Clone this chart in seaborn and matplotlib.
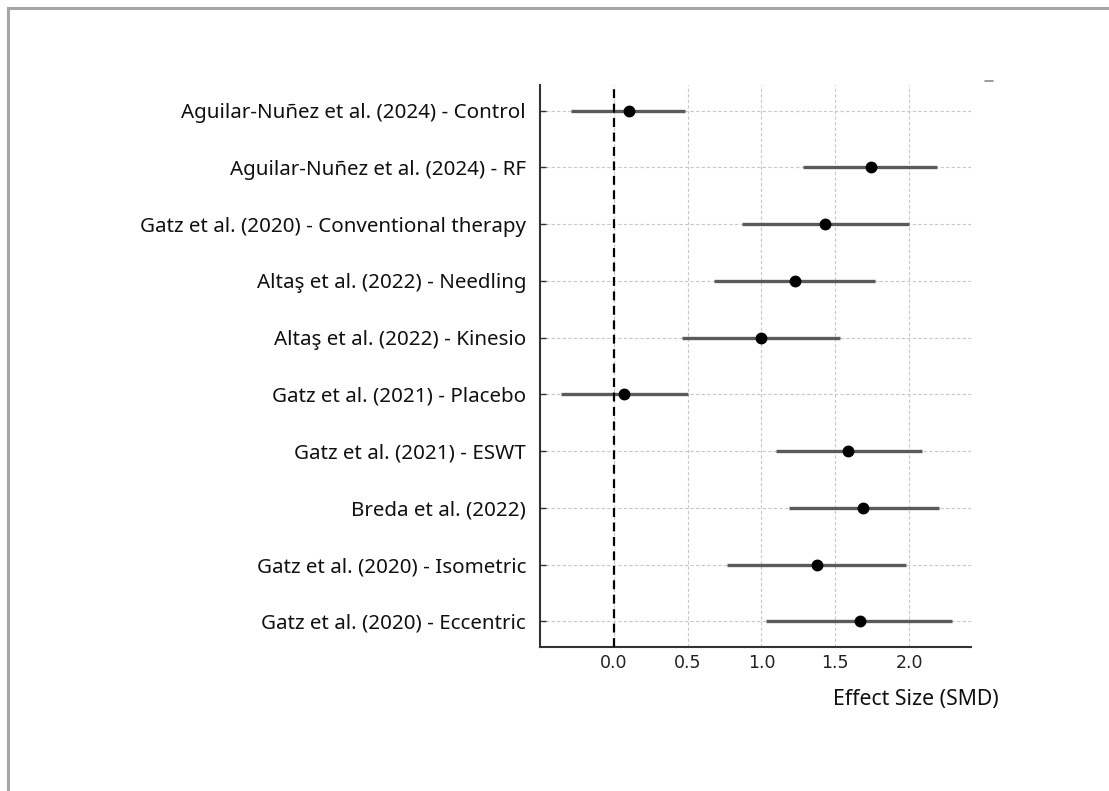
import matplotlib.pyplot as plt
import pandas as pd
import seaborn as sns
from matplotlib.lines import Line2D
from matplotlib.patches import Rectangle

sns.set_theme(style="whitegrid")
plt.rcParams["font.family"] = ["Noto Sans", "DejaVu Sans"]

studies = [
    "Aguilar-Nuñez et al. (2024) - Control",
    "Aguilar-Nuñez et al. (2024) - RF",
    "Gatz et al. (2020) - Conventional therapy",
    "Altaş et al. (2022) - Needling",
    "Altaş et al. (2022) - Kinesio",
    "Gatz et al. (2021) - Placebo",
    "Gatz et al. (2021) - ESWT",
    "Breda et al. (2022)",
    "Gatz et al. (2020) - Isometric",
    "Gatz et al. (2020) - Eccentric",
]
smd = [0.10, 1.74, 1.43, 1.23, 1.00, 0.07, 1.59, 1.69, 1.38, 1.67]
ci_low = [-0.29, 1.28, 0.87, 0.68, 0.46, -0.36, 1.10, 1.19, 0.77, 1.03]
ci_high = [0.48, 2.19, 2.00, 1.77, 1.53, 0.50, 2.09, 2.20, 1.98, 2.29]
x_ticks = [0.0, 0.5, 1.0, 1.5, 2.0]

df = pd.DataFrame({"study": studies, "smd": smd, "low": ci_low, "high": ci_high})

fig = plt.figure(figsize=(11.09, 7.91), dpi=100)
fig.patch.set_facecolor("white")
ax = fig.add_axes([540 / 1109, 1 - 647 / 791, 431 / 1109, 562 / 791])
ax.set_facecolor("white")

# confidence intervals
ax.hlines(range(len(df)), df["low"], df["high"], color="#5a5a5a", lw=2.4, zorder=3)

sns.pointplot(
    data=df,
    x="smd",
    y="study",
    order=studies,
    color="black",
    linestyle="none",
    markers="o",
    markersize=6.5,
    errorbar=None,
    ax=ax,
    zorder=5,
)

ax.axvline(0.0, color="black", linestyle=(0, (4, 2.5)), lw=1.6, zorder=4)

ax.set_xlim(-0.5, 2.42)
ax.set_ylim(len(df) - 1 + 0.45, -0.45)
ax.set_xticks(x_ticks)
ax.set_xticklabels([f"{t:.1f}" for t in x_ticks], family="DejaVu Sans")

ax.grid(True, linestyle=(0, (3, 2)), color="#c8c8c8", lw=0.8)
ax.set_axisbelow(True)
for side in ["top", "right"]:
    ax.spines[side].set_visible(False)
for side in ["left", "bottom"]:
    ax.spines[side].set_color("#333333")
    ax.spines[side].set_linewidth(1.5)

ax.tick_params(axis="y", direction="in", length=4, width=1, color="#333333",
               labelsize=14.8, labelcolor="#111111", pad=10, left=True)
ax.tick_params(axis="x", direction="in", length=0, labelsize=12.5, pad=5,
               labelcolor="#222222")
ax.set_ylabel("")
ax.set_xlabel("Effect Size (SMD)", fontsize=15.3, color="#111111", va="center")
ax.xaxis.set_label_coords((916 - 540) / 431, -(700 - 647) / 562)

# screenshot frame and stray legend handle
fig.add_artist(Rectangle((8 / 1109, -0.1), 1.2, (791 - 8) / 791 + 0.1,
                         transform=fig.transFigure, fill=False,
                         edgecolor="#a6a6a6", lw=2.2))
fig.add_artist(Line2D([985 / 1109, 993 / 1109], [1 - 80.5 / 791] * 2,
                      transform=fig.transFigure, color="#8a8a8a", lw=1.2))

fig.savefig("out.png", dpi=100)
